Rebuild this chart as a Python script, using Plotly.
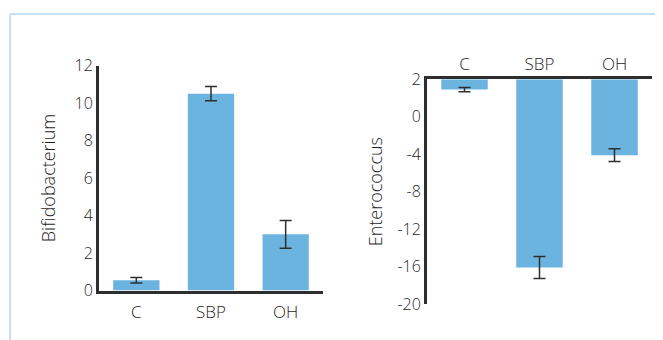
import plotly.graph_objects as go

# ---- data ----
categories = ["C", "SBP", "OH"]
bifido_values = [0.55, 10.5, 3.0]
bifido_errors = [0.15, 0.38, 0.74]
entero_values = [1.45, -16.1, -4.1]
entero_errors = [0.11, 1.18, 0.67]
bifido_ticks = [0, 2, 4, 6, 8, 10, 12]
entero_ticks = [2, 0, -4, -8, -12, -16, -20]

BAR = "#6cb4e0"
INK = "#2e2e2e"
TXT = "#1f1f1f"
FONT = "Open Sans"
W, H = 663, 340
OFF = 8  # page body margin in the browser


def px(x):
    return (x - OFF) / W


def py(y):
    return 1 - (y - OFF) / H


def disp(v):
    # the Enterococcus axis is drawn with a stretched segment between 0 and 2
    return 2 * v if v > 0 else v


top_disp = disp(entero_ticks[0])

fig = go.Figure()

fig.add_trace(go.Bar(
    x=categories, y=bifido_values, marker=dict(color=BAR, line=dict(width=0)),
    width=0.62,
    error_y=dict(type="data", array=bifido_errors, color=INK, thickness=1.5, width=6),
    xaxis="x", yaxis="y", showlegend=False,
))

fig.add_trace(go.Bar(
    x=categories, y=[disp(v) - top_disp for v in entero_values], base=top_disp,
    marker=dict(color=BAR, line=dict(width=0)), width=0.62,
    xaxis="x2", yaxis="y2", showlegend=False,
))
fig.add_trace(go.Scatter(
    x=categories, y=[disp(v) for v in entero_values], mode="markers",
    marker=dict(size=1, opacity=0),
    error_y=dict(type="data",
                 array=[disp(v + e) - disp(v) for v, e in zip(entero_values, entero_errors)],
                 arrayminus=[disp(v) - disp(v - e) for v, e in zip(entero_values, entero_errors)],
                 color=INK, thickness=1.5, width=6),
    xaxis="x2", yaxis="y2", showlegend=False,
))

yfont = dict(family=FONT, size=16, color=TXT, weight=300)
xfont = dict(family=FONT, size=17, color=TXT, weight=300)
tfont = dict(family=FONT, size=18, color=TXT, weight=300)
common = dict(showline=True, linecolor=INK, linewidth=3, ticks="", showgrid=False,
              zeroline=False, automargin=False)

fig.update_layout(
    width=W, height=H, margin=dict(l=0, r=0, t=0, b=0, pad=0),
    paper_bgcolor="white", plot_bgcolor="white",
    font=dict(family=FONT, size=16, color=TXT),
    xaxis=dict(domain=[px(99), px(323)], anchor="y", range=[-0.5, 2.5],
               ticklabelstandoff=4, tickfont=xfont, **common),
    yaxis=dict(domain=[py(290.5), py(65.5)], anchor="x", range=[0, 12],
               tickvals=bifido_ticks, tickfont=yfont,
               title=dict(text="Bifidobacterium", font=tfont, standoff=15), **common),
    xaxis2=dict(domain=[px(427), px(652)], anchor="y2", side="top", range=[-0.5, 2.5],
                tickfont=xfont, **common),
    yaxis2=dict(domain=[py(304), py(79.3)], anchor="x2",
                range=[disp(entero_ticks[-1]), top_disp],
                tickvals=[disp(t) for t in entero_ticks],
                ticktext=[str(t) for t in entero_ticks], tickfont=yfont,
                title=dict(text="Enterococcus", font=tfont, standoff=11), **common),
    shapes=[
        dict(type="line", xref="paper", yref="paper", x0=px(10), x1=1,
             y0=py(14), y1=py(14), line=dict(color="#c4e0f2", width=2)),
        dict(type="line", xref="paper", yref="paper", x0=px(10), x1=px(10),
             y0=0, y1=py(14), line=dict(color="#c4e0f2", width=2)),
    ],
)

fig.write_html("out.html")
